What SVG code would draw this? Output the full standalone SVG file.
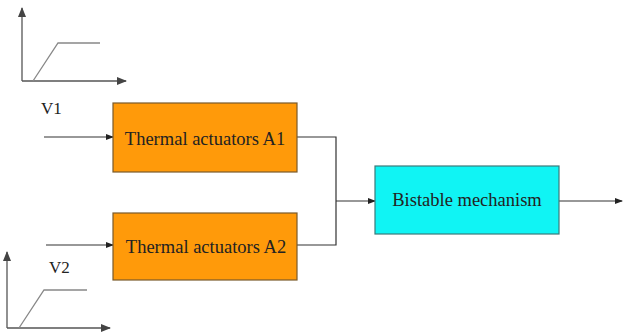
<svg xmlns="http://www.w3.org/2000/svg" width="623" height="332" viewBox="0 0 623 332">
<style>
.box{stroke:#7a5a2a;stroke-width:1.2}
.a1{fill:#ff9a0a}
.bi{fill:#10f4f4;stroke:#3a7a7a}
.ln{fill:none;stroke:#333;stroke-width:1.2}
.ax{fill:none;stroke:#555;stroke-width:1.3}
.rp{fill:none;stroke:#888;stroke-width:1.3}
text{font-family:'Liberation Serif','Times New Roman',serif;font-size:18.5px;fill:#222}
.lbl{font-size:17px}
</style>
<defs>
<marker id="ar" markerWidth="8" markerHeight="6" refX="7" refY="3" orient="auto" markerUnits="userSpaceOnUse">
<path d="M0,0 L8,3 L0,6 z" fill="#222"/>
</marker>
<marker id="ax" markerWidth="10" markerHeight="8" refX="9" refY="4" orient="auto" markerUnits="userSpaceOnUse">
<path d="M0,0 L10,4 L0,8 z" fill="#444"/>
</marker>
</defs>
<g id="graph1">
<path class="ax" d="M22,81 L22,8" marker-end="url(#ax)"/>
<path class="ax" d="M22,81 L126,81" marker-end="url(#ax)"/>
<path class="rp" d="M33,81 L58,43 L100,43"/>
</g>
<g id="graph2">
<path class="ax" d="M7,328 L7,252" marker-end="url(#ax)"/>
<path class="ax" d="M7,328 L110,328" marker-end="url(#ax)"/>
<path class="rp" d="M19,328 L44,290 L87,290"/>
</g>
<g id="connectors">
<path class="ln" d="M44,137 L113,137" marker-end="url(#ar)"/>
<path class="ln" d="M46,245 L113,245" marker-end="url(#ar)"/>
<path class="ln" d="M297,137 L336,137 L336,245 L297,245"/>
<path class="ln" d="M336,201 L375,201" marker-end="url(#ar)"/>
<path class="ln" d="M559,201 L622,201" marker-end="url(#ar)"/>
</g>
<g id="labelV1"><text class="lbl" x="41" y="114">V1</text></g>
<g id="labelV2"><text class="lbl" x="49" y="273">V2</text></g>
<g id="nodeA1">
<rect class="box a1" x="113" y="103" width="184" height="69"/>
<text x="205" y="145" text-anchor="middle">Thermal actuators A1</text>
</g>
<g id="nodeA2">
<rect class="box a1" x="113" y="213" width="184" height="67"/>
<text x="206" y="253" text-anchor="middle">Thermal actuators A2</text>
</g>
<g id="nodeBistable">
<rect class="box bi" x="375" y="166" width="184" height="68"/>
<text x="467" y="206" text-anchor="middle">Bistable mechanism</text>
</g>
</svg>
